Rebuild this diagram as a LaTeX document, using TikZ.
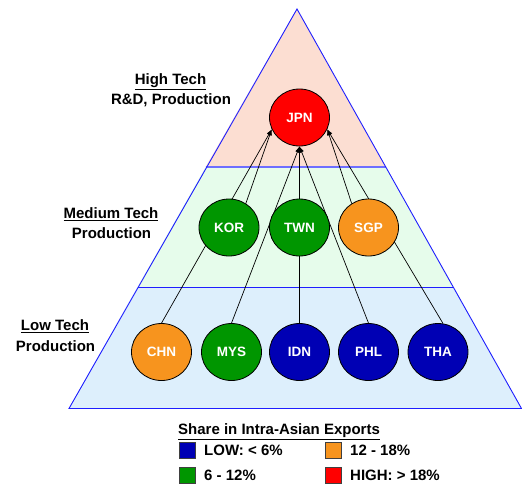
\documentclass[tikz,border=0pt]{standalone}
\usepackage{fontspec}
\setmainfont{Liberation Sans}
\usetikzlibrary{shapes.geometric,arrows.meta}
\pgfdeclarelayer{bg}
\pgfdeclarelayer{lines}
\pgfsetlayers{bg,lines,main}
\definecolor{topfill}{RGB}{252,222,210}
\definecolor{midfill}{RGB}{230,252,235}
\definecolor{lowfill}{RGB}{221,239,252}
\definecolor{edgeblue}{RGB}{30,30,255}
\definecolor{bandline}{RGB}{110,110,255}
\definecolor{cred}{RGB}{255,0,0}
\definecolor{cgreen}{RGB}{0,150,0}
\definecolor{corange}{RGB}{247,148,30}
\definecolor{cblue}{RGB}{0,0,180}
\newcommand\myul[1]{\leavevmode\vtop{\hbox{#1}\kern1.8pt\hrule height 1.3pt}}
\tikzset{
  country/.style={ellipse, draw=black, line width=0.8pt, minimum width=60pt,
    minimum height=57pt, inner sep=0pt, text=white,
    font=\bfseries\fontsize{13.5}{16}\selectfont},
  lbl/.style={anchor=base, inner sep=0pt, font=\bfseries\fontsize{15}{18}\selectfont},
  legtxt/.style={anchor=west, inner sep=0pt, font=\bfseries\fontsize{15}{18}\selectfont},
  legbox/.style={draw=black!75, line width=0.6pt, minimum size=16pt, inner sep=0pt},
  arr/.style={-{Latex[length=6pt,width=4.5pt]}, line width=0.7pt, black}
}
\begin{document}
\begin{tikzpicture}[x=1pt,y=-1pt]
\useasboundingbox (0,0) rectangle (522,483);
% pyramid bands
\begin{pgfonlayer}{bg}
\fill[topfill] (297,9) -- (205.5,167) -- (385.5,167) -- cycle;
\fill[midfill] (205.5,167) -- (137.5,287) -- (453.5,287) -- (385.5,167) -- cycle;
\fill[lowfill] (137.5,287) -- (69,408.5) -- (521.5,408.5) -- (453.5,287) -- cycle;
\draw[bandline, line width=1.2pt] (205.5,167) -- (385.5,167);
\draw[edgeblue, line width=0.9pt] (137.5,287) -- (453.5,287);
\draw[edgeblue, line width=0.9pt, line join=miter] (297,9) -- (69,408.5) -- (521.5,408.5) -- cycle;
\end{pgfonlayer}

% countries
\node[country, fill=cred]    (JPN) at (299.5,117.5) {JPN};
\node[country, fill=cgreen]  (KOR) at (229,227.5) {KOR};
\node[country, fill=cgreen]  (TWN) at (299.5,227.5) {TWN};
\node[country, fill=corange] (SGP) at (368.5,227.5) {SGP};
\node[country, fill=corange] (CHN) at (161.5,352) {CHN};
\node[country, fill=cgreen]  (MYS) at (231.5,352) {MYS};
\node[country, fill=cblue]   (IDN) at (299.5,352) {IDN};
\node[country, fill=cblue]   (PHL) at (368.5,352) {PHL};
\node[country, fill=cblue]   (THA) at (438,352) {THA};

% connectors
\begin{pgfonlayer}{lines}
\draw[arr] (CHN.north) -- (JPN.203);
\draw[arr] (KOR.55) -- (JPN.203);
\draw[arr] (MYS.north) -- (JPN.south);
\draw[arr] (IDN.north) -- (JPN.south);
\draw[arr] (TWN.north) -- (JPN.south);
\draw[arr] (PHL.north) -- (JPN.south);
\draw[arr] (SGP.125) -- (JPN.337);
\draw[arr] (THA.80) -- (JPN.337);
\end{pgfonlayer}

% level labels
\node[lbl] (hiA) at (170.5,84) {\myul{High Tech}};
\node[lbl] (hiB) at (171,104) {R\&D, Production};
\node[lbl] (meA) at (111,218) {\myul{Medium Tech}};
\node[lbl] (meB) at (111.5,238) {Production};
\node[lbl] (loA) at (55,330) {\myul{Low Tech}};
\node[lbl] (loB) at (55.5,351) {Production};

% legend
\node[lbl, anchor=base west] (legT) at (178,434) {\myul{Share in Intra-Asian Exports}};
\node[legbox, fill=cblue]   (bLow)  at (187,450) {};
\node[legbox, fill=corange] (bMid2) at (333,450) {};
\node[legbox, fill=cgreen]  (bMid1) at (187,475) {};
\node[legbox, fill=cred]    (bHigh) at (333,475) {};
\node[legtxt] (tLow)  at (204,450) {LOW: < 6\%};
\node[legtxt] (tMid2) at (350,450) {12 - 18\%};
\node[legtxt] (tMid1) at (204,475) {6 - 12\%};
\node[legtxt] (tHigh) at (350,475) {HIGH: > 18\%};
\end{tikzpicture}
\end{document}
